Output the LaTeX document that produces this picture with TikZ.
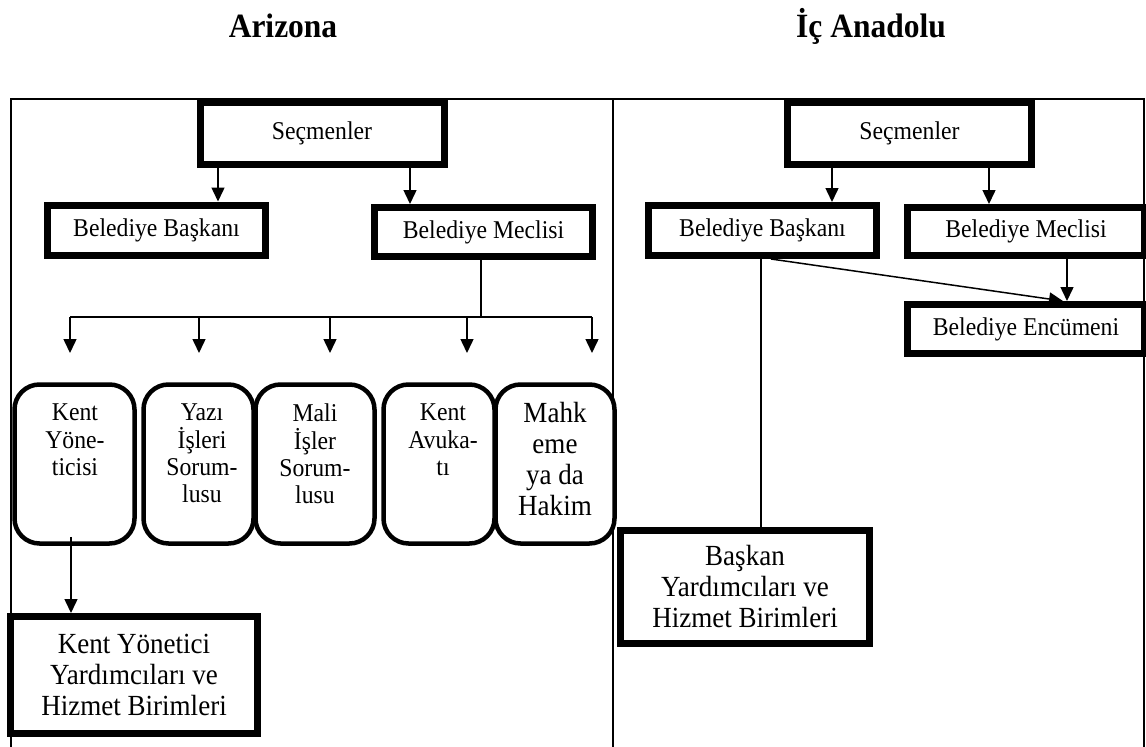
\documentclass[tikz,border=0pt]{standalone}
\usepackage{fontspec}
\setmainfont{Liberation Serif}[FakeStretch=0.926]
\usetikzlibrary{arrows.meta}
\newcommand\fsN{\fontsize{25.6}{27.3}\selectfont}
\newcommand\fsL{\fontsize{29.2}{31}\selectfont}
\newcommand\fsT{\fontsize{34}{36}\selectfont\bfseries}
\tikzset{
  thickbox/.style={draw, line width=7pt, fill=white, inner sep=0pt, font=\fsN, align=center},
  bigbox/.style={draw, line width=7pt, fill=white, inner sep=0pt, font=\fsL, align=center},
  rbox/.style={draw, line width=4.5pt, fill=white, rounded corners=25pt, inner sep=0pt},
  rtext/.style={inner sep=0pt, align=center, anchor=north, font=\fsN},
  framel/.style={line width=1.6pt},
  conn/.style={line width=1.5pt},
  arr/.style={line width=1.5pt, -{Triangle[length=14pt,width=13pt]}},
  ttl/.style={inner sep=0pt, anchor=base, font=\fsT}
}
\begin{document}
\begin{tikzpicture}[x=1pt,y=-1pt]
\useasboundingbox (0,0) rectangle (1146,747);
% titles
\node[ttl] (t1) at (283,37) {Arizona};
\node[ttl] (t2) at (871,37) {İç Anadolu};
% frame
\coordinate (f1) at (11,747);
\coordinate (f2) at (11,99);
\coordinate (f3) at (1144,99);
\coordinate (f4) at (1144,747);
\coordinate (d1) at (613,99);
\coordinate (d2) at (613,747);
\draw[framel] (f1) -- (f2) -- (f3) -- (f4);
\draw[framel] (d1) -- (d2);

% ---------- left: Arizona ----------
\node[thickbox, minimum width=244pt, minimum height=62pt] (S1) at (322,133.5) {Seçmenler};
\node[thickbox, minimum width=218pt, minimum height=50pt] (B1) at (156.5,230) {Belediye Başkanı};
\node[thickbox, minimum width=218pt, minimum height=49pt] (M1) at (483.5,232) {Belediye Meclisi};
\draw[arr] (218,0 |- S1.south) -- (218,0 |- B1.north);
\draw[arr] (410,0 |- S1.south) -- (410,0 |- M1.north);

\coordinate (j) at (481,317);
\coordinate (h1) at (70,317);
\coordinate (h2) at (592,317);
\draw[conn] (M1.south -| j) -- (j);
\draw[conn] (h1) -- (h2);
\foreach \xx/\nm in {70/a1,199/a2,330/a3,467/a4,592/a5}{
  \coordinate (\nm s) at (\xx,317);
  \coordinate (\nm e) at (\xx,353);
  \draw[arr] (\nm s) -- (\nm e);
}

\node[rbox, minimum width=120pt, minimum height=159pt] (K1) at (74.5,464) {};
\node[rbox, minimum width=110pt, minimum height=159pt] (Y1) at (198.5,464) {};
\node[rbox, minimum width=119pt, minimum height=159pt] (Mi) at (315,464) {};
\node[rbox, minimum width=111pt, minimum height=159pt] (KA) at (439,464) {};
\node[rbox, minimum width=119pt, minimum height=159pt] (Mh) at (555,464) {};
\node[rtext] (K1t) at (75,404) {Kent\\Yöne-\\ticisi};
\node[rtext] (Y1t) at (202,404) {Yazı\\İşleri\\Sorum-\\lusu};
\node[rtext] (Mit) at (315,404) {Mali\\İşler\\Sorum-\\lusu};
\node[rtext] (KAt) at (443,404) {Kent\\Avuka-\\tı};
\node[rtext, font=\fsL] (Mht) at (555,402) {Mahk\\eme\\ya da\\Hakim};

\node[bigbox, minimum width=247pt, minimum height=117pt] (KY) at (134,675) {Kent Yönetici\\Yardımcıları ve\\Hizmet Birimleri};
\draw[arr] ([yshift=9pt]K1.south -| 71,0) -- (71,0 |- KY.north);

% ---------- right: Ic Anadolu ----------
\node[thickbox, minimum width=244pt, minimum height=62pt] (S2) at (909.5,133.5) {Seçmenler};
\node[thickbox, minimum width=228pt, minimum height=50pt] (B2) at (762.5,230.5) {Belediye Başkanı};
\node[thickbox, minimum width=237pt, minimum height=48pt] (M2) at (1026,231.5) {Belediye Meclisi};
\node[thickbox, minimum width=237pt, minimum height=49pt] (E) at (1026,329) {Belediye Encümeni};
\draw[arr] (832,0 |- S2.south) -- (832,0 |- B2.north);
\draw[arr] (989,0 |- S2.south) -- (989,0 |- M2.north);
\draw[arr] (1067,0 |- M2.south) -- (1067,0 |- E.north);
\draw[arr] (771,0 |- B2.south) -- (1063,0 |- E.north);

\node[bigbox, minimum width=249pt, minimum height=113pt] (BY) at (745,587) {Başkan\\Yardımcıları ve\\Hizmet Birimleri};
\draw[conn] (761,0 |- B2.south) -- (761,0 |- BY.north);
\end{tikzpicture}
\end{document}
